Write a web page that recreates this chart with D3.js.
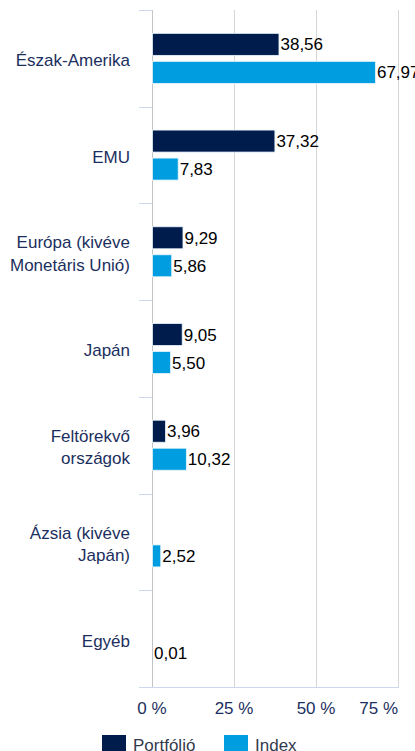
<!DOCTYPE html>
<html>
<head>
<meta charset="utf-8">
<script src="https://cdn.jsdelivr.net/npm/d3@7"></script>
<style>
  body { margin: 0; background: #fff; }
  svg text { font-family: "Liberation Sans", Arial, sans-serif; }
</style>
</head>
<body>
<svg id="chart" width="415" height="751"></svg>
<script>
// Data
const categories = [
    ["Észak-Amerika"],
    ["EMU"],
    ["Európa (kivéve", "Monetáris Unió)"],
    ["Japán"],
    ["Feltörekvő", "országok"],
    ["Ázsia (kivéve", "Japán)"],
    ["Egyéb"]
];
const portfolio = [38.56, 37.32, 9.29, 9.05, 3.96, null, null];
const index = [67.97, 7.83, 5.86, 5.50, 10.32, 2.52, 0.01];
const xTicks = [0, 25, 50, 75];
const seriesNames = ["Portfólió", "Index"];
const colors = ["#001c4c", "#009ee0"];

(function drawChart() {
    const svg = d3.select("#chart");

    const plotLeft = 152, plotRight = 398, plotTop = 10, plotBottom = 687;

    const x = d3.scaleLinear().domain([0, 75]).range([plotLeft, plotRight]);
    const y = d3.scaleBand().domain(d3.range(categories.length)).range([plotTop, plotBottom]);

    const barH = 22, gap = 6;

    // gridlines
    svg.append("g")
        .selectAll("line")
        .data(xTicks)
        .enter().append("line")
        .attr("x1", d => x(d) + 0.5).attr("x2", d => x(d) + 0.5)
        .attr("y1", plotTop).attr("y2", plotBottom)
        .attr("stroke", d => d === 0 ? "#c4c4c4" : "#d6d6d6")
        .attr("stroke-width", 1);

    // category separators (axis ticks)
    svg.append("g")
        .selectAll("line")
        .data(d3.range(categories.length + 1))
        .enter().append("line")
        .attr("x1", plotLeft - 13).attr("x2", plotLeft)
        .attr("y1", d => Math.round(plotTop + d * y.step()) + 0.5)
        .attr("y2", d => Math.round(plotTop + d * y.step()) + 0.5)
        .attr("stroke", "#cdd8ec");

    svg.append("line")
        .attr("x1", plotLeft).attr("x2", plotRight + 1)
        .attr("y1", plotBottom + 0.5).attr("y2", plotBottom + 0.5)
        .attr("stroke", "#cdd8ec");

    // category labels
    const catG = svg.append("g");
    categories.forEach((lines, i) => {
        const cy = y(i) + y.bandwidth() / 2 + 2;
        const lh = 22.5;
        const t = catG.append("text")
            .attr("text-anchor", "end")
            .attr("fill", "#1b2f5e")
            .style("font-size", "17px");
        lines.forEach((ln, j) => {
            t.append("tspan")
                .attr("x", 130)
                .attr("y", cy + (j - (lines.length - 1) / 2) * lh)
                .attr("dy", "0.35em")
                .text(ln);
        });
    });

    // bars
    const series = [portfolio, index];
    series.forEach((vals, s) => {
        const g = svg.append("g");
        vals.forEach((v, i) => {
            if (v === null) return;
            const cy = y(i) + y.bandwidth() / 2;
            const by = s === 0 ? cy - gap / 2 - barH : cy + gap / 2;
            g.append("rect")
                .attr("x", x(0) + 0.5)
                .attr("y", by)
                .attr("width", Math.max(0, x(v) - x(0)))
                .attr("height", barH)
                .attr("fill", colors[s])
                .attr("stroke", v > 0.5 ? "#e8f4fb" : "none")
                .attr("stroke-width", 0.8);
            g.append("text")
                .attr("x", x(v) + 2)
                .attr("y", by + barH / 2)
                .attr("dy", "0.36em")
                .attr("fill", "#000")
                .style("font-size", "17px")
                .text(d3.format(".2f")(v).replace(".", ","));
        });
    });

    // x tick labels
    svg.append("g")
        .selectAll("text")
        .data(xTicks)
        .enter().append("text")
        .attr("x", (d, i) => i === xTicks.length - 1 ? plotRight : x(d))
        .attr("y", 714)
        .attr("text-anchor", (d, i) => i === xTicks.length - 1 ? "end" : "middle")
        .attr("fill", "#1b2f5e")
        .style("font-size", "17px")
        .text(d => d + " %");

    // legend
    const legendX = [102, 224];
    seriesNames.forEach((name, i) => {
        svg.append("rect")
            .attr("x", legendX[i]).attr("y", 735)
            .attr("width", 24).attr("height", 20)
            .attr("fill", colors[i]);
        svg.append("text")
            .attr("x", legendX[i] + 31).attr("y", 751)
            .attr("fill", "#333a4d")
            .style("font-size", "17px")
            .text(name);
    });
})();
</script>
</body>
</html>
